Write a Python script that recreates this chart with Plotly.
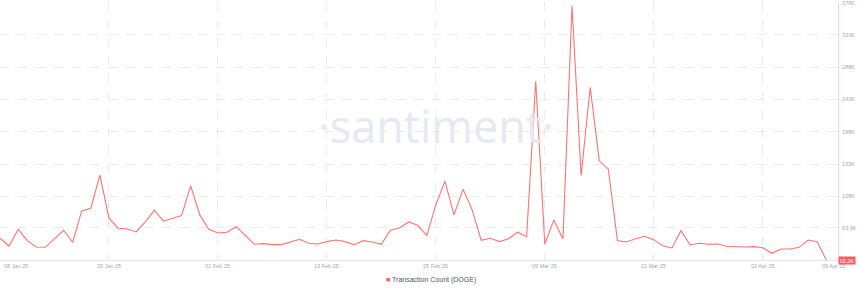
import pandas as pd
import plotly.graph_objects as go

start_date = "2025-01-08"
tx_count_k = [
    49.5, 38.7, 62.1, 46.2, 37.3, 36.9, 48.9, 60.7, 43.9, 87.7,
    91.4, 137.5, 77.5, 63.5, 62.5, 58.3, 72.3, 88.6, 73.3, 77.5,
    81.1, 122.6, 82.1, 62.1, 56.9, 57.9, 65.7, 53.7, 41.1, 42.0,
    40.6, 40.6, 44.3, 48.1, 42.5, 41.5, 44.8, 47.1, 44.8, 40.6,
    46.2, 44.3, 41.1, 60.7, 63.9, 72.3, 67.6, 53.1, 96.0, 129.2,
    82.1, 118.0, 89.1, 46.7, 49.5, 44.8, 48.9, 57.9, 51.7, 268.4,
    41.5, 75.1, 48.5, 374.1, 137.0, 260.0, 157.5, 145.9, 46.2, 44.3,
    48.9, 52.3, 47.6, 39.2, 36.0, 60.1, 40.1, 42.5, 41.1, 41.5,
    38.3, 37.3, 37.3, 37.8, 36.4, 28.5, 34.6, 34.6, 36.9, 47.1,
    44.8, 19.2,
]
dates = pd.date_range(start_date, periods=len(tx_count_k), freq="D")
values = [v * 1000 for v in tx_count_k]

x_tick_dates = ["2025-01-08", "2025-01-20", "2025-02-01", "2025-02-13",
                "2025-02-25", "2025-03-09", "2025-03-21", "2025-04-02", "2025-04-09"]
x_tick_labels = ["08 Jan 25", "20 Jan 25", "01 Feb 25", "13 Feb 25",
                 "25 Feb 25", "09 Mar 25", "21 Mar 25", "02 Apr 25", "09 Apr 25"]
y_tick_vals_k = [63.9, 108, 153, 198, 243, 288, 333, 378]
y_tick_labels = ["63.9K", "108K", "153K", "198K", "243K", "288K", "333K", "378K"]
series_name = "Transaction Count (DOGE)"
last_label = "19.2K"

LINE = "#ff7373"
GRID = "#e9eaf0"
TICK = "#a3a7b8"

fig = go.Figure()
fig.add_trace(go.Scatter(
    x=dates, y=values, mode="lines", name=series_name,
    line=dict(color=LINE, width=1.1),
    showlegend=False, hoverinfo="skip",
))

annotations = [
    dict(text="·santiment·", xref="paper", yref="paper", x=0.52, y=0.52,
         showarrow=False, font=dict(family="Open Sans", size=45, color="#e6e8f2")),
    dict(text="<span style='color:#ff5c5c'>■</span> " + series_name,
         xref="paper", yref="paper", x=431 / 838, y=-20 / 258,
         xanchor="center", yanchor="middle", showarrow=False,
         font=dict(family="Liberation Sans", size=7, color="#4f5461")),
]
for d, lab in zip(x_tick_dates, x_tick_labels):
    xa = "left" if d == x_tick_dates[0] else "center"
    annotations.append(dict(
        text=lab, x=d, y=0, xref="x", yref="paper", yshift=-6,
        xanchor=xa, yanchor="middle", showarrow=False,
        xshift=(8 if d == x_tick_dates[-1] else 2 if xa == "left" else 0),
        font=dict(family="Liberation Sans", size=5.5, color=TICK),
    ))
annotations.append(dict(
    text=last_label, x=1, xref="paper", y=values[-1], yref="y",
    xanchor="left", yanchor="middle", showarrow=False, xshift=0,
    bgcolor="#ff5c5c", borderpad=0.5,
    font=dict(family="Liberation Sans", size=5.5, color="white"),
))

fig.update_layout(
    width=860, height=291,
    margin=dict(l=0, r=22, t=2, b=31, autoexpand=False),
    paper_bgcolor="white", plot_bgcolor="white",
    annotations=annotations,
    showlegend=False,
    xaxis=dict(
        range=["2025-01-08", "2025-04-10 07:00"],
        tickvals=x_tick_dates[:-1], showticklabels=False,
        showgrid=True, gridcolor=GRID, griddash="dash", gridwidth=1,
        showline=True, linecolor="#e3e4ea", linewidth=1,
        zeroline=False, ticks="",
    ),
    yaxis=dict(
        range=[19200, 379000], side="right",
        tickvals=[v * 1000 for v in y_tick_vals_k], ticktext=y_tick_labels,
        showgrid=True, gridcolor=GRID, griddash="dash", gridwidth=1,
        showline=True, linecolor="#ffd3d3", linewidth=1, mirror=False,
        zeroline=False, ticks="", ticklabelstandoff=2,
        ticklabeloverflow="allow",
        tickfont=dict(family="Liberation Sans", size=5.5, color=TICK),
    ),
)

fig.write_html("out.html")
